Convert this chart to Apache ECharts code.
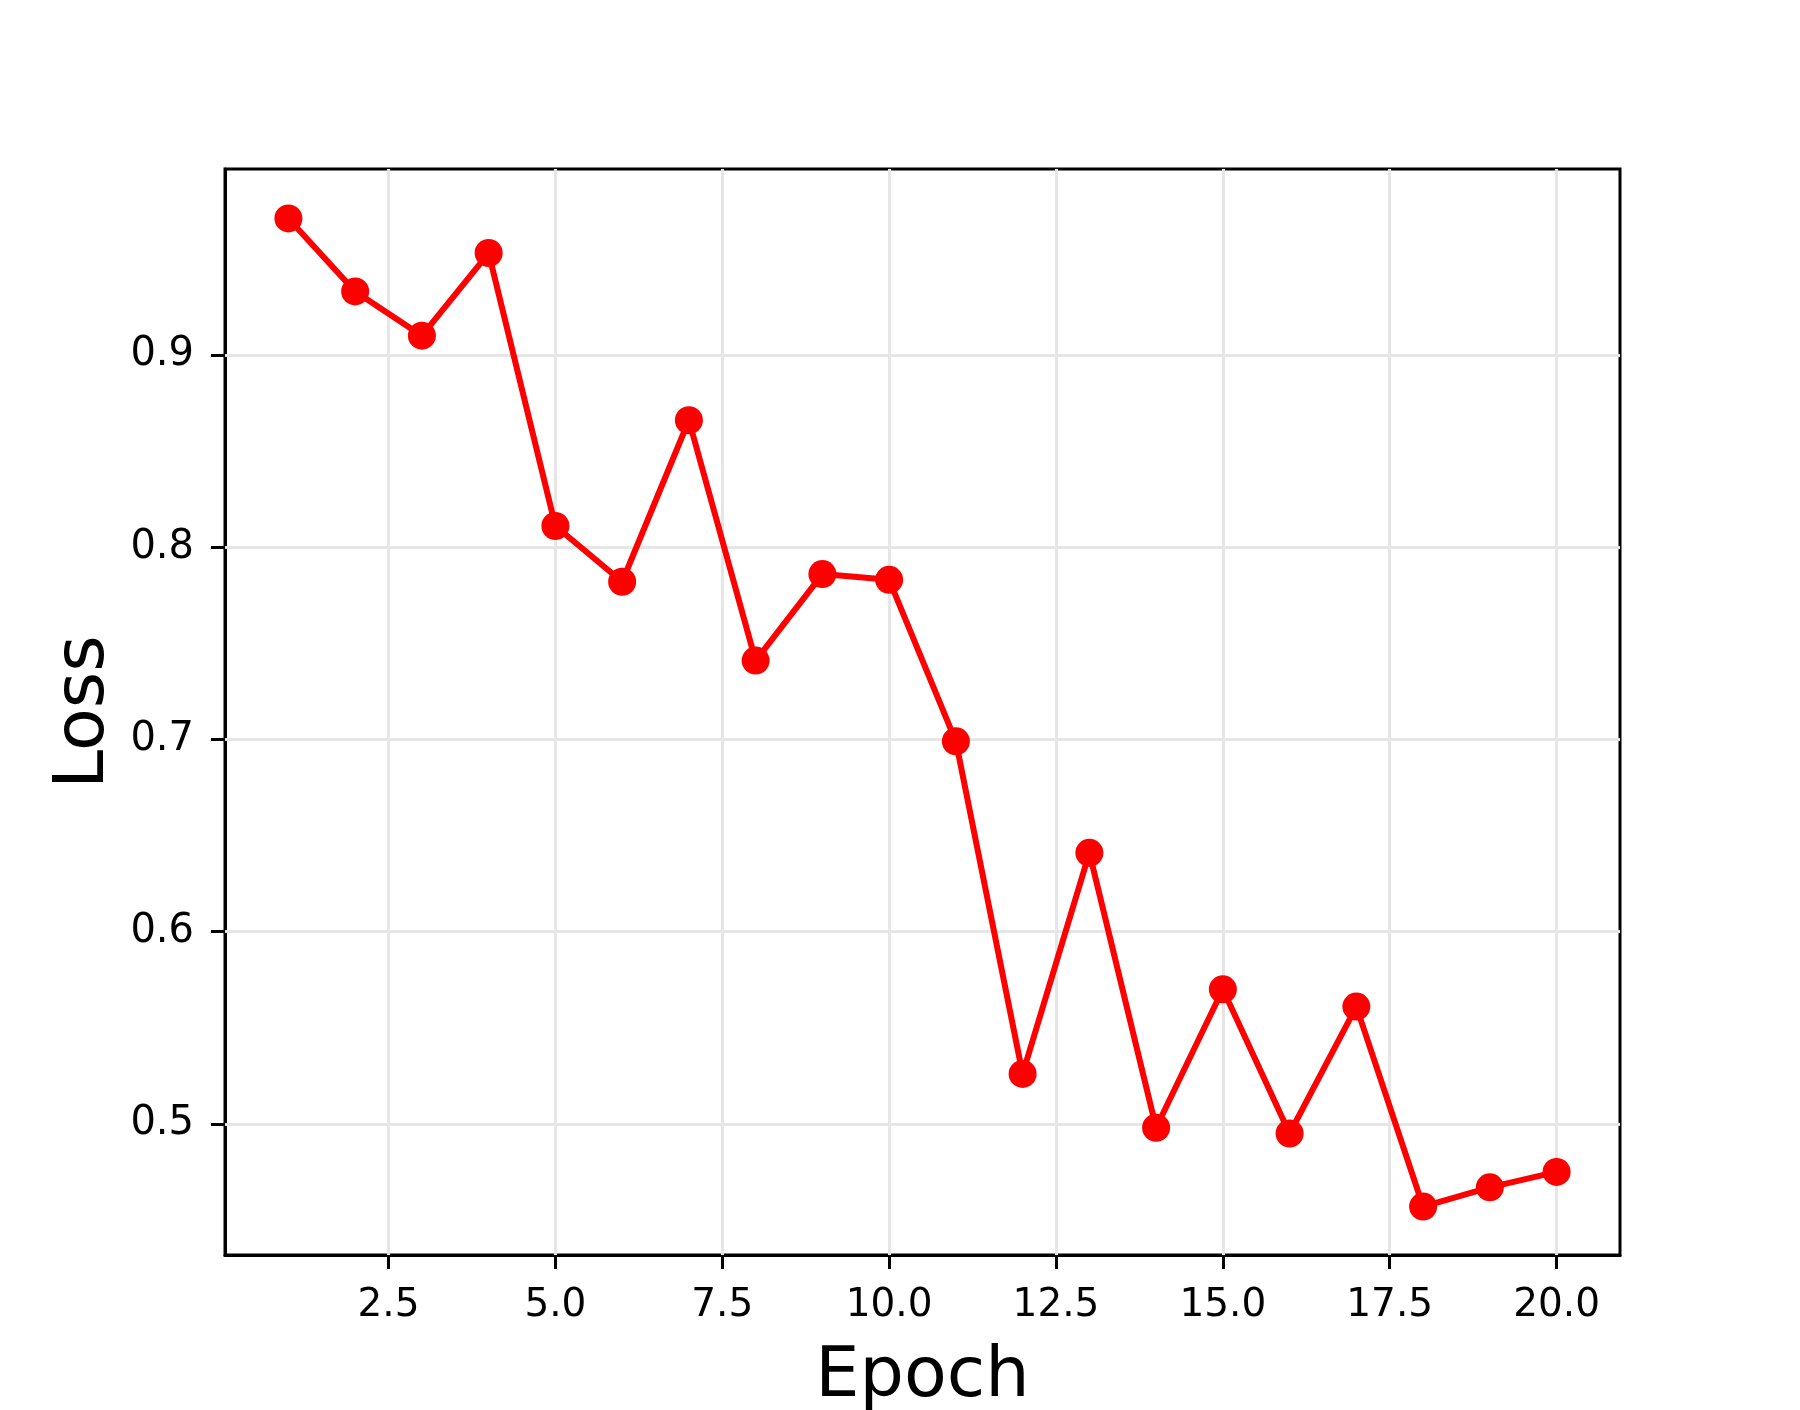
<!DOCTYPE html>
<html>
<head>
<meta charset="utf-8">
<title>Loss per epoch</title>
<script src="https://cdn.jsdelivr.net/npm/echarts@6/dist/echarts.min.js"></script>
<style>
  html, body { margin: 0; padding: 0; background: #fff; }
  #chartsDom { width: 1800px; height: 1410px; }
</style>
</head>
<body>
<div id="chartsDom"></div>
<script>
const epochs = [1, 2, 3, 4, 5, 6, 7, 8, 9, 10, 11, 12, 13, 14, 15, 16, 17, 18, 19, 20];
const loss = [0.971, 0.933, 0.910, 0.953, 0.811, 0.782, 0.866, 0.741, 0.786, 0.783,
              0.699, 0.526, 0.641, 0.498, 0.570, 0.495, 0.561, 0.457, 0.467, 0.475];
const xTicks = [2.5, 5.0, 7.5, 10.0, 12.5, 15.0, 17.5, 20.0];
const yTicks = [0.5, 0.6, 0.7, 0.8, 0.9];

const chartsDom = echarts.init(document.getElementById('chartsDom'));
const font = 'DejaVu Sans';

let option = {
  animation: false,
  backgroundColor: '#fff',
  grid: {
    left: 225, top: 169, width: 1395, height: 1086,
    outerBoundsMode: 'none',
    containLabel: false,
    show: true, borderColor: '#000', borderWidth: 3
  },
  xAxis: {
    type: 'value',
    min: 0.05, max: 20.95,
    name: 'Epoch',
    nameLocation: 'middle',
    nameGap: 88,
    nameTextStyle: { fontFamily: font, fontSize: 70, color: '#000' },
    axisLine: { show: true, lineStyle: { color: '#000', width: 3 } },
    axisTick: { show: true, inside: false, length: 14, customValues: xTicks, lineStyle: { color: '#000', width: 3 } },
    axisLabel: {
      customValues: xTicks, margin: 31, fontFamily: font, fontSize: 39, color: '#000',
      formatter: v => v.toFixed(1)
    },
    splitLine: { show: false }
  },
  yAxis: {
    type: 'value',
    min: 0.4318, max: 0.9967,
    name: 'Loss',
    nameLocation: 'middle',
    nameGap: 104,
    nameTextStyle: { fontFamily: font, fontSize: 70, color: '#000' },
    axisLine: { show: true, lineStyle: { color: '#000', width: 3 } },
    axisTick: { show: true, inside: false, length: 14, customValues: yTicks, lineStyle: { color: '#000', width: 3 } },
    axisLabel: {
      customValues: yTicks, margin: 31, fontFamily: font, fontSize: 40, color: '#000',
      formatter: v => v.toFixed(1)
    },
    splitLine: { show: false }
  },
  series: [
    {
      // grid lines
      type: 'line',
      data: [],
      z: 1,
      markLine: {
        silent: true,
        z: 1,
        symbol: 'none',
        label: { show: false },
        lineStyle: { color: '#e6e6e6', width: 3, type: 'solid' },
        data: xTicks.map(v => ({ xAxis: v })).concat(yTicks.map(v => ({ yAxis: v })))
      }
    },
    {
      name: 'Loss',
      type: 'line',
      z: 3,
      data: epochs.map((e, i) => [e, loss[i]]),
      symbol: 'circle',
      symbolSize: 28,
      itemStyle: { color: '#ff0000' },
      lineStyle: { color: '#ff0000', width: 6 }
    }
  ]
};
option && chartsDom.setOption(option);
</script>
</body>
</html>
